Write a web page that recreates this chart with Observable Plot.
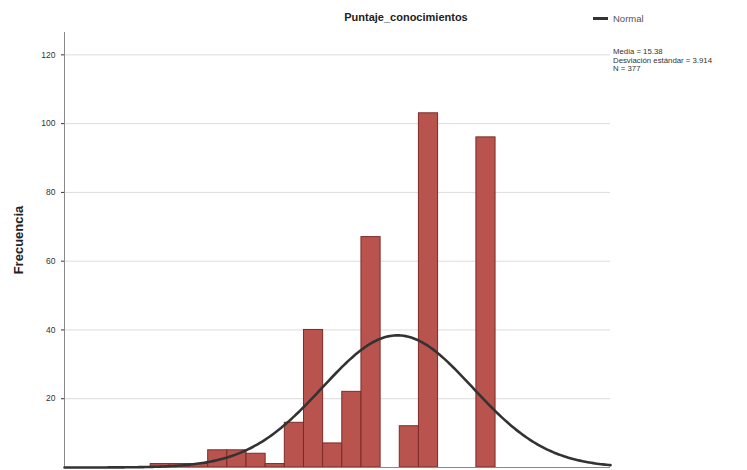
<!DOCTYPE html>
<html>
<head>
<meta charset="utf-8">
<script src="https://cdn.jsdelivr.net/npm/d3@7"></script>
<script src="https://cdn.jsdelivr.net/npm/@observablehq/plot@0.6"></script>
<style>
  html, body { margin: 0; padding: 0; background: #fff; overflow: hidden; }
  #wrap { position: relative; width: 747px; height: 470px; overflow: hidden; font-family: "Liberation Sans", Arial, sans-serif; }
  #chart { position: absolute; left: 0; top: 0; }
  .title { position: absolute; left: 0; width: 812px; top: 11px; text-align: center; font-weight: bold; font-size: 11px; color: #222; }
  .legend { position: absolute; left: 593px; top: 13px; font-size: 9.5px; color: #555; display: flex; align-items: center; }
  .legend .sw { width: 15px; height: 3px; background: #333; margin-right: 5px; }
  .stats { position: absolute; left: 613px; top: 48px; font-family: "Liberation Sans Narrow", "Liberation Sans", Arial, sans-serif; font-size: 7.8px; line-height: 8.6px; color: #333; white-space: nowrap; }
</style>
</head>
<body>
<div id="wrap">
  <div id="chart"></div>
  <div class="title">Puntaje_conocimientos</div>
  <div class="legend"><span class="sw"></span>Normal</div>
  <div class="stats">Media = 15.38<br>Desviación estándar = 3.914<br>N = 377</div>
</div>
<script>
// Histogram bins (score, frequency)
const scores = [3, 4, 5, 6, 7, 8, 9, 10, 11, 12, 13, 14, 16, 17, 20];
const counts = [1, 1, 1, 5, 5, 4, 1, 13, 40, 7, 22, 67, 12, 103, 96];
const yTicks = [20, 40, 60, 80, 100, 120];
// Summary statistics printed on the chart
const media = 15.38;
const desviacion = 3.914;
const nTotal = 377;
const binWidth = 1;
const xDomain = [-2, 26.5];

const bins = scores.map((s, i) => ({x1: s - binWidth / 2, x2: s + binWidth / 2, count: counts[i]}));

// Normal curve defined by the printed mean, sd and N
function normalHeight(x) {
  const z = (x - media) / desviacion;
  return nTotal * binWidth * Math.exp(-0.5 * z * z) / (desviacion * Math.sqrt(2 * Math.PI));
}
const curveX = d3.range(xDomain[0], xDomain[1] + 0.001, 0.1);
const curve = curveX.map(x => ({x, y: normalHeight(x)}));

const chart = Plot.plot({
  width: 747,
  height: 470,
  marginLeft: 64,
  marginRight: 137,
  marginTop: 32,
  marginBottom: 3,
  style: {fontFamily: "Liberation Sans, Arial, sans-serif", fontSize: "8.5px", color: "#333", background: "#fff"},
  x: {domain: xDomain, axis: null},
  y: {domain: [0, 126.5], ticks: yTicks, tickSize: 3, tickPadding: 6, label: null},
  marks: [
    Plot.ruleY(yTicks, {stroke: "#dcdcdc", strokeWidth: 1}),
    Plot.rectY(bins, {x1: "x1", x2: "x2", y: "count", fill: "#b8544d", stroke: "#7e2b27", strokeWidth: 1, inset: 0}),
    Plot.ruleY([0], {stroke: "#888"}),
    Plot.ruleX([xDomain[0]], {stroke: "#888"}),
    Plot.line(curve, {x: "x", y: "y", stroke: "#333", strokeWidth: 2.6, curve: "linear"})
  ]
});
document.getElementById("chart").appendChild(chart);

// y-axis title
d3.select(chart).append("text")
  .attr("transform", "translate(23,240) rotate(-90)")
  .attr("text-anchor", "middle")
  .attr("font-weight", "bold")
  .attr("font-size", "13px")
  .attr("fill", "#222")
  .text("Frecuencia");
</script>
</body>
</html>
